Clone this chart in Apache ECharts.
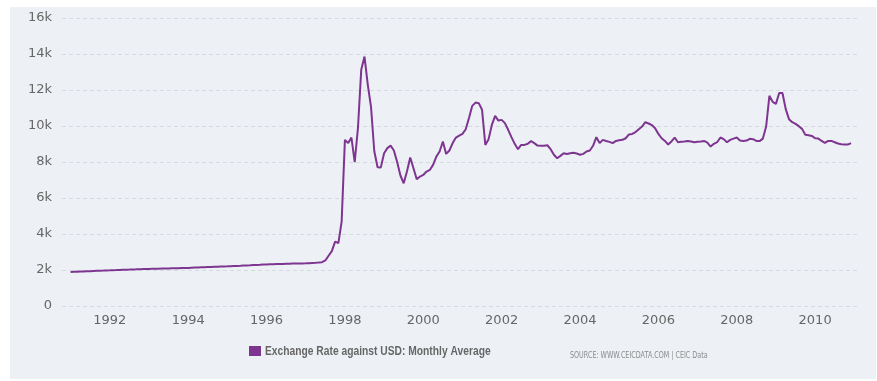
<!DOCTYPE html>
<html>
<head>
<meta charset="utf-8">
<script src="https://cdn.jsdelivr.net/npm/echarts@6/dist/echarts.min.js"></script>
<style>
html,body{margin:0;padding:0;background:#ffffff;}
#chart{width:877px;height:381px;}
</style>
</head>
<body>
<div id="chart"></div>
<script>
// Monthly data, Jan 1991 .. Dec 2010
const startYear = 1991;
const seriesName = 'Exchange Rate against USD: Monthly Average';
const monthlyRate = [
  1892, 1900, 1906, 1915, 1921, 1930, 1936, 1944, 1952, 1960, 1966, 1975,
  1982, 1990, 1995, 2002, 2010, 2017, 2023, 2030, 2036, 2044, 2050, 2058,
  2062, 2066, 2070, 2075, 2080, 2085, 2090, 2094, 2098, 2103, 2108, 2112,
  2116, 2124, 2132, 2140, 2148, 2156, 2163, 2170, 2178, 2186, 2193, 2200,
  2205, 2212, 2220, 2228, 2236, 2245, 2253, 2262, 2272, 2281, 2290, 2300,
  2310, 2318, 2324, 2330, 2336, 2340, 2345, 2350, 2355, 2358, 2362, 2366,
  2372, 2380, 2390, 2400, 2412, 2432, 2530, 2790, 3050, 3580, 3490, 4690,
  9230, 9050, 9360, 7990, 9900, 13120, 13860, 12300, 11050, 8600, 7710, 7700,
  8490, 8770, 8910, 8640, 8000, 7250, 6820, 7470, 8250, 7650, 7040, 7190,
  7280, 7470, 7560, 7840, 8300, 8580, 9140, 8450, 8640, 9050, 9360, 9470,
  9560, 9820, 10440, 11120, 11300, 11270, 10900, 8950, 9270, 10060, 10560, 10300,
  10340, 10160, 9790, 9380, 9010, 8710, 8950, 8950, 9010, 9160, 9050, 8910,
  8900, 8900, 8930, 8710, 8400, 8210, 8340, 8490, 8450, 8490, 8510, 8470,
  8400, 8450, 8580, 8640, 8900, 9380, 9050, 9230, 9170, 9120, 9050, 9170,
  9210, 9230, 9320, 9530, 9560, 9660, 9820, 9970, 10210, 10140, 10050, 9880,
  9560, 9320, 9170, 8970, 9140, 9360, 9100, 9120, 9140, 9170, 9140, 9100,
  9120, 9140, 9170, 9080, 8860, 9010, 9100, 9360, 9270, 9100, 9230, 9300,
  9360, 9190, 9170, 9190, 9290, 9270, 9170, 9160, 9300, 9970, 11680, 11340,
  11230, 11830, 11830, 10940, 10380, 10210, 10120, 9990, 9840, 9510, 9490, 9450,
  9320, 9300, 9170, 9060, 9170, 9170, 9100, 9030, 8990, 8970, 8970, 9050
];
const xLabelYears = [1992, 1994, 1996, 1998, 2000, 2002, 2004, 2006, 2008, 2010];
const yTickLabels = ['0', '2k', '4k', '6k', '8k', '10k', '12k', '14k', '16k'];
const sourceText = 'SOURCE: WWW.CEICDATA.COM | CEIC Data';

const lineColor = '#7d3590';
const data = monthlyRate.map((v, i) => [startYear + i / 12, v]);

const chart = echarts.init(document.getElementById('chart'), null, {renderer: 'canvas'});
chart.setOption({
  animation: false,
  backgroundColor: '#ffffff',
  graphic: [
    {type: 'rect', z: -10, silent: true, shape: {x: 10, y: 7, width: 866, height: 372}, style: {fill: '#edf1f6'}},
    {type: 'text', x: 265, y: 351.5, scaleX: 0.79, silent: true,
     style: {text: seriesName, fill: '#666666', verticalAlign: 'middle', align: 'left',
             font: 'bold 13px "Liberation Sans", sans-serif'}},
    {type: 'text', x: 570, y: 355.5, scaleX: 0.8, silent: true,
     style: {text: sourceText, fill: '#8a8a8a', verticalAlign: 'middle', align: 'left',
             font: '8px "DejaVu Sans", sans-serif'}}
  ],
  grid: {left: 62, right: 18, top: 18, bottom: 75, containLabel: false},
  legend: {
    left: 249, top: 341, padding: [5, 0, 5, 0],
    itemWidth: 12, itemHeight: 10,
    icon: 'rect',
    data: [seriesName],
    formatter: () => '',
    textStyle: {fontSize: 12}
  },
  xAxis: {
    type: 'value',
    min: 1990.78, max: 2011.12,
    axisLine: {show: false},
    axisTick: {show: false},
    splitLine: {show: false},
    axisLabel: {
      customValues: xLabelYears,
      formatter: v => String(Math.round(v)),
      color: '#666666', fontSize: 13, fontFamily: '"DejaVu Sans", sans-serif', margin: 8
    }
  },
  yAxis: {
    type: 'value',
    min: 0, max: 16000, interval: 2000,
    axisLine: {show: false},
    axisTick: {show: false},
    axisLabel: {
      formatter: v => yTickLabels[Math.round(v / 2000)],
      color: '#666666', fontSize: 13, fontFamily: '"DejaVu Sans", sans-serif', margin: 10
    },
    splitLine: {lineStyle: {color: '#d5dae2', type: [4, 3], width: 1}}
  },
  series: [{
    name: seriesName,
    type: 'line',
    data: data,
    showSymbol: false,
    symbol: 'none',
    lineStyle: {color: lineColor, width: 2},
    itemStyle: {color: lineColor}
  }]
});
</script>
</body>
</html>
